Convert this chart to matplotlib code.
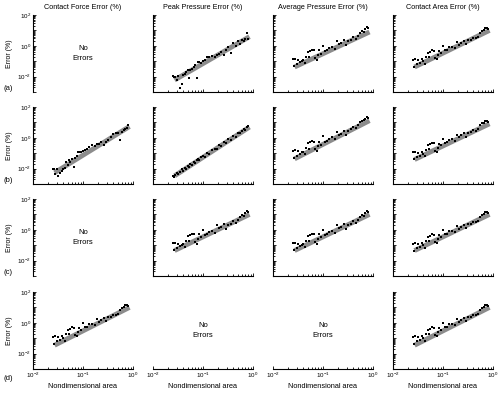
"""Error (%) vs nondimensional area, 4x4 log-log panels."""

import matplotlib.pyplot as plt
import numpy as np
from matplotlib.ticker import LogLocator, NullFormatter

plt.rcParams["font.family"] = ["Liberation Sans", "DejaVu Sans"]
plt.rcParams["mathtext.fontset"] = "custom"
plt.rcParams["mathtext.rm"] = "Liberation Sans"
plt.rcParams["mathtext.it"] = "Liberation Sans:italic"

col_titles = ["Contact Force Error (%)", "Peak Pressure Error (%)",
              "Average Pressure Error (%)", "Contact Area Error (%)"]
row_tags = ["(a)", "(b)", "(c)", "(d)"]

# nondimensional area of each case (shared x values)
area = [0.025, 0.026, 0.028, 0.03, 0.032, 0.035, 0.038, 0.04, 0.043, 0.046,
        0.05, 0.053, 0.056, 0.06, 0.065, 0.07, 0.075, 0.08, 0.085, 0.09,
        0.1, 0.11, 0.12, 0.13, 0.15, 0.17, 0.19, 0.21, 0.23, 0.26,
        0.29, 0.32, 0.36, 0.4, 0.45, 0.5, 0.55, 0.6, 0.65, 0.7, 0.75, 0.8]

# log10 of error (%)
log_err_peak_a = [-1.98, -2.00, -2.05, -2.20, -1.95, -2.72, -2.45, -1.90, -1.80, -1.70,
                  -1.55, -2.10, -1.60, -1.50, -1.40, -1.25, -2.10, -1.05, -1.02, -1.10,
                  -1.00, -0.95, -0.70, -0.72, -0.68, -0.72, -0.60, -0.55, -0.40, -0.60,
                  -0.26, -0.10, -0.48, 0.15, -0.02, 0.28, 0.10, 0.38, 0.30, 0.45, 0.85, 0.42]
log_err_force_b = [-2.00, -2.05, -2.35, -2.00, -2.45, -2.30, -2.15, -2.00, -1.95, -1.60,
                   -1.75, -1.45, -1.55, -1.40, -1.90, -1.30, -1.20, -0.95, -0.90, -0.95,
                   -0.85, -0.82, -0.70, -0.60, -0.48, -0.55, -0.38, -0.40, -0.30, -0.50,
                   -0.30, -0.15, 0.05, 0.22, 0.30, 0.28, -0.15, 0.40, 0.50, 0.55, 0.65, 0.85]
log_err_peak_b = [-2.50, -2.55, -2.40, -2.30, -2.35, -2.20, -2.05, -2.15, -1.95, -2.00,
                  -1.80, -1.90, -1.70, -1.75, -1.55, -1.65, -1.45, -1.40, -1.45, -1.25,
                  -1.20, -1.25, -1.00, -1.05, -0.80, -0.70, -0.72, -0.50, -0.55, -0.30,
                  -0.32, -0.10, -0.12, 0.10, 0.08, 0.30, 0.28, 0.45, 0.55, 0.50, 0.68, 0.75]
log_err_avg = [-0.85, -1.30, -0.83, -1.15, -0.90, -1.05, -1.00, -0.95, -1.10, -0.70,
               -0.40, -0.72, -0.35, -0.25, -0.30, -0.78, -0.90, -0.60, -0.30, -0.50,
               0.00, -0.35, -0.30, -0.15, -0.05, -0.20, 0.28, 0.10, 0.15, 0.35,
               0.05, 0.30, 0.40, 0.55, 0.45, 0.65, 0.85, 0.95, 0.90, 1.10, 1.22, 1.15]
log_err_area = [-0.90, -1.35, -0.85, -1.20, -0.95, -1.10, -0.85, -1.00, -1.15, -0.75,
                -0.45, -0.70, -0.40, -0.30, -0.35, -0.80, -0.85, -0.62, -0.35, -0.45,
                0.00, -0.30, -0.25, -0.10, -0.10, -0.15, 0.25, 0.05, 0.20, 0.30,
                0.10, 0.35, 0.40, 0.50, 0.50, 0.60, 0.80, 0.95, 1.00, 1.15, 1.18, 1.10]
log_err_avg_b = [-0.85, -1.30, -0.80, -1.15, -0.85, -1.05, -0.95, -0.90, -1.05, -0.65,
                 -0.35, -0.70, -0.30, -0.20, -0.25, -0.75, -0.85, -0.55, -0.25, -0.45,
                 0.10, -0.25, -0.20, -0.05, 0.05, -0.10, 0.38, 0.20, 0.25, 0.45,
                 0.20, 0.45, 0.55, 0.70, 0.65, 0.80, 1.00, 1.10, 1.15, 1.25, 1.35, 1.28]
log_err_area_b = [-0.95, -1.40, -0.90, -1.25, -1.00, -1.15, -0.90, -1.05, -1.20, -0.80,
                  -0.50, -0.75, -0.40, -0.35, -0.35, -0.85, -0.90, -0.65, -0.40, -0.50,
                  -0.05, -0.35, -0.30, -0.15, -0.10, -0.20, 0.20, 0.05, 0.15, 0.30,
                  0.05, 0.30, 0.35, 0.50, 0.45, 0.60, 0.85, 0.95, 0.95, 1.10, 1.12, 1.05]

# fitted trend lines: error (%) at the two ends
fit_x = [0.027, 0.85]
fit_peak_a = [0.006, 3.9]
fit_avg_a = [0.042, 7.9]
fit_area_a = [0.042, 10.0]
fit_force_b = [0.0054, 5.4]
fit_peak_b = [0.0034, 5.0]
fit_avg_b = [0.043, 13.0]
fit_area_b = [0.039, 8.1]
fit_c = [0.045, 10.0]
fit_d = [0.035, 10.0]

# (row, col) -> (points, fit); None = "No Errors"
panels = {
    (0, 0): None, (0, 1): (log_err_peak_a, fit_peak_a),
    (0, 2): (log_err_avg, fit_avg_a), (0, 3): (log_err_area, fit_area_a),
    (1, 0): (log_err_force_b, fit_force_b), (1, 1): (log_err_peak_b, fit_peak_b),
    (1, 2): (log_err_avg_b, fit_avg_b), (1, 3): (log_err_area_b, fit_area_b),
    (2, 0): None, (2, 1): (log_err_avg, fit_c),
    (2, 2): (log_err_avg, fit_c), (2, 3): (log_err_area, fit_c),
    (3, 0): (log_err_area, fit_d), (3, 1): None,
    (3, 2): None, (3, 3): (log_err_area, fit_d),
}

W, H = 500, 393
col_left = [33, 153, 273, 393]
row_top = [15, 107, 199, 292]
ax_w, ax_h = 100, 77
tag_y = [89, 180, 272, 378]

fig = plt.figure(figsize=(W / 100, H / 100), dpi=100)

for r in range(4):
    for c in range(4):
        ax = fig.add_axes([col_left[c] / W, 1 - (row_top[r] + ax_h) / H, ax_w / W, ax_h / H])
        ax.set_xscale("log")
        ax.set_yscale("log")
        ax.set_xlim(1e-2, 1e0)
        ax.set_ylim(1e-3, 1e2)
        for s in ("top", "right"):
            ax.spines[s].set_visible(False)
        for s in ("left", "bottom"):
            ax.spines[s].set_linewidth(0.8)

        ax.set_yticks([1e-3, 1e-2, 1e-1, 1e0, 1e1, 1e2])
        ax.set_xticks([1e-2, 1e-1, 1e0])
        ax.yaxis.set_minor_locator(LogLocator(base=10, subs=np.arange(2, 10), numticks=20))
        ax.xaxis.set_minor_locator(LogLocator(base=10, subs=np.arange(2, 10), numticks=20))
        ax.xaxis.set_minor_formatter(NullFormatter())
        ax.yaxis.set_minor_formatter(NullFormatter())
        ax.tick_params(which="both", direction="in", width=0.6, labelsize=4.5, pad=1.5)
        ax.tick_params(which="major", length=2.5)
        ax.tick_params(which="minor", length=1.3)

        if c == 0:
            ax.set_yticklabels(["", r"$10^{-2}$", "", r"$10^{0}$", "", r"$10^{2}$"])
            ax.set_ylabel("Error (%)", fontsize=5, labelpad=3)
        else:
            ax.set_yticklabels([])
        if r == 3:
            ax.set_xticklabels([r"$10^{-2}$", r"$10^{-1}$", r"$10^{0}$"])
            ax.set_xlabel("Nondimensional area", fontsize=5.3, labelpad=2)
        else:
            ax.set_xticklabels([])
        if r == 0:
            ax.set_title(col_titles[c], fontsize=5.2, pad=4)

        spec = panels[(r, c)]
        if spec is None:
            ax.text(0.5, 0.5, "No\nErrors", transform=ax.transAxes, ha="center",
                    va="center", fontsize=5.5, linespacing=1.5)
            if r == 3:
                ax.spines["left"].set_visible(False)
                ax.tick_params(axis="y", which="both", left=False)
            else:
                ax.spines["bottom"].set_visible(False)
                ax.tick_params(axis="x", which="both", bottom=False)
            continue

        pts, fit = spec
        ax.plot(fit_x, fit, color="#8c8c8c", lw=3.5, solid_capstyle="butt", zorder=2)
        ax.scatter(area, 10 ** np.array(pts), s=4, marker="s", color="black",
                   linewidths=0, zorder=3)

for r in range(4):
    fig.text(3 / W, 1 - tag_y[r] / H, row_tags[r], fontsize=5.5, va="center", ha="left")

fig.savefig("out.png", dpi=100)
